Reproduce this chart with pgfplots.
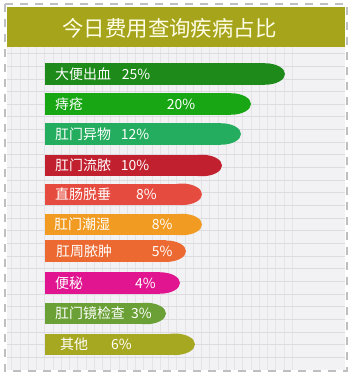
\documentclass[border=0pt]{standalone}
\usepackage{pgfplots}
\pgfplotsset{compat=1.18}
\usepackage{fontspec}
\setmainfont{Noto Sans CJK SC}
\definecolor{cA}{HTML}{1D8A1A}
\definecolor{cB}{HTML}{18A614}
\definecolor{cC}{HTML}{25AD5F}
\definecolor{cD}{HTML}{C1202F}
\definecolor{cE}{HTML}{E54B3E}
\definecolor{cF}{HTML}{F19B22}
\definecolor{cG}{HTML}{EC6A32}
\definecolor{cH}{HTML}{E0158F}
\definecolor{cI}{HTML}{6AA035}
\definecolor{cJ}{HTML}{A7A821}
\definecolor{banner}{HTML}{A6A41B}
\definecolor{gridbg}{HTML}{F2F2F4}
\definecolor{gridln}{HTML}{DCDCE0}
\definecolor{gridlnv}{HTML}{E4E4E8}
\definecolor{titletxt}{HTML}{FFFDE6}
\pgfdeclareplotmark{cap}{\pgfpathellipse{\pgfpointorigin}{\pgfqpoint{\pgfplotmarksize}{0pt}}{\pgfqpoint{0pt}{10.75bp}}\pgfusepathqfill}
\begin{document}
\begin{tikzpicture}
\begin{axis}[
  set layers=standard,
  scale only axis, width=361bp, height=387bp,
  xmin=-45, xmax=316, ymin=0, ymax=387, y dir=reverse,
  hide axis, clip=false,
  xbar, bar width=21.5bp, bar shift=0pt,
]
% page background and frame
\begin{pgfonlayer}{axis background}
\fill[white] (axis cs:-45,0) rectangle (axis cs:316,387);
\fill[gridbg] (axis cs:-38,47) rectangle (axis cs:300,370);
\pgfplotsinvokeforeach{0,...,34}{\draw[gridlnv, line width=0.8bp] (axis cs:{-33.25+8.25*#1},47) -- (axis cs:{-33.25+8.25*#1},370);}
\pgfplotsinvokeforeach{0,...,24}{\draw[gridln, line width=0.9bp] (axis cs:-38,{53.7+12.65*#1}) -- (axis cs:300,{53.7+12.65*#1});}
\fill[banner] (axis cs:-38,7) rectangle (axis cs:300,47);
\node[text=titletxt, font=\fontsize{21.5}{22}\selectfont] at (axis cs:124.5,28) {今日费用查询疾病占比};
\draw[gray!50, line width=2bp, dash pattern=on 8bp off 7bp] (axis cs:-40,4) rectangle (axis cs:302,371);
\end{pgfonlayer}
% bars: bar body to (length - 20), elliptic cap of x-radius 20 centred there
\addplot[fill=cA, draw=none] coordinates {(220,74)};
\addplot[only marks, mark=cap, mark size=20bp, color=cA] coordinates {(220,74)};
\addplot[fill=cB, draw=none] coordinates {(186,104)};
\addplot[only marks, mark=cap, mark size=20bp, color=cB] coordinates {(186,104)};
\addplot[fill=cC, draw=none] coordinates {(176,134)};
\addplot[only marks, mark=cap, mark size=20bp, color=cC] coordinates {(176,134)};
\addplot[fill=cD, draw=none] coordinates {(157,165.5)};
\addplot[only marks, mark=cap, mark size=20bp, color=cD] coordinates {(157,165.5)};
\addplot[fill=cE, draw=none] coordinates {(137,194.3)};
\addplot[only marks, mark=cap, mark size=20bp, color=cE] coordinates {(137,194.3)};
\addplot[fill=cF, draw=none] coordinates {(137,224.5)};
\addplot[only marks, mark=cap, mark size=20bp, color=cF] coordinates {(137,224.5)};
\addplot[fill=cG, draw=none] coordinates {(121,251.2)};
\addplot[only marks, mark=cap, mark size=20bp, color=cG] coordinates {(121,251.2)};
\addplot[fill=cH, draw=none] coordinates {(115,283)};
\addplot[only marks, mark=cap, mark size=20bp, color=cH] coordinates {(115,283)};
\addplot[fill=cI, draw=none] coordinates {(101,313.5)};
\addplot[only marks, mark=cap, mark size=20bp, color=cI] coordinates {(101,313.5)};
\addplot[fill=cJ, draw=none] coordinates {(130,344.3)};
\addplot[only marks, mark=cap, mark size=20bp, color=cJ] coordinates {(130,344.3)};
% labels
\begin{pgfonlayer}{axis foreground}
\begin{scope}[every node/.style={anchor=west, text=white, inner sep=0pt, font=\fontsize{14}{14}\selectfont}]
\node at (axis cs:10,74) {大便出血};   \node at (axis cs:76.7,74) {25\%};
\node at (axis cs:10,104) {痔疮};       \node at (axis cs:121.7,104) {20\%};
\node at (axis cs:10,134) {肛门异物};   \node at (axis cs:75.7,134) {12\%};
\node at (axis cs:10,165.5) {肛门流脓}; \node at (axis cs:75.7,165.5) {10\%};
\node at (axis cs:10,194.3) {直肠脱垂}; \node at (axis cs:91,194.3) {8\%};
\node at (axis cs:9,224.5) {肛门潮湿};  \node at (axis cs:106.7,224.5) {8\%};
\node at (axis cs:11,251.2) {肛周脓肿}; \node at (axis cs:106.7,251.2) {5\%};
\node at (axis cs:10,283) {便秘};       \node at (axis cs:90,283) {4\%};
\node at (axis cs:10,313.5) {肛门镜检查}; \node at (axis cs:86,313.5) {3\%};
\node at (axis cs:15,344.3) {其他};     \node at (axis cs:66,344.3) {6\%};
\end{scope}
\end{pgfonlayer}
\end{axis}
\end{tikzpicture}
\end{document}
